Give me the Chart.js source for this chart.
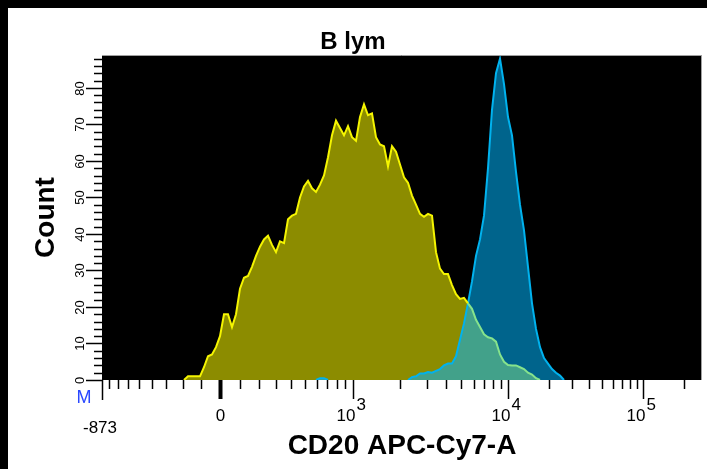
<!DOCTYPE html>
<html>
<head>
<meta charset="utf-8">
<script src="https://cdn.jsdelivr.net/npm/chart.js@4.4.1/dist/chart.umd.min.js"></script>
<style>
  html, body { margin: 0; background: #000; }
  #panel { position: absolute; left: 8px; top: 8px; width: 699px; height: 461px; background: #fff; }
  canvas { display: block; }
</style>
</head>
<body>
<div id="panel"><canvas id="hist" width="699" height="461"></canvas></div>
<script>
// 直方图数据（每个通道 = 显示轴的 1/150）
const CHANNELS = 150;
const Y_MAX = 89;
const X_MIN_VALUE = -873;

const yellowStart = 21;
const yellowCounts = [
  1, 1, 1, 1, 3.5, 6.5, 7, 9, 12, 18, 18, 14.5, 18, 25, 28, 28.5, 31, 34, 36.5, 38.5,
  39.5, 37, 35, 38, 37.5, 44, 45, 45.5, 50, 53, 54.5, 52.5, 51.5, 53.5, 56, 61, 67, 71, 69, 67,
  69.5, 66.5, 65.5, 72, 75.5, 72.5, 73, 66.5, 64.5, 64, 58.5, 64, 62.5, 59, 55.5, 54, 50.5, 48, 45.5, 44.7,
  45.5, 45, 35, 30.5, 29, 29, 26, 23.5, 22.2, 22.5, 21, 19.5, 16.5, 14.5, 12.5, 11.7, 11.4, 10.5, 7, 5,
  4.1, 4, 4, 3.5, 3, 2, 1.5, 0.5
];

const blueStart = 54;
const blueCounts = [
  0.5, 0.5, 0, 0, 0, 0, 0, 0, 0, 0, 0, 0, 0, 0, 0, 0, 0, 0, 0, 0, 0, 0, 0,
  0.8, 1, 1.8, 1.8, 2.2, 2, 2.5, 3, 4, 4.5, 4.5, 6.5, 11, 15.5, 21, 27, 34, 38.5, 45, 58,
  74, 84, 88, 81, 72, 67, 57, 48, 41, 31, 21, 14, 9, 6, 4.5, 3, 2, 1.2
];

// 坐标轴刻度
const yTickStep = 2;
const yLabelEvery = 10;
const xMajorTicks = [0, 1e3, 1e4, 1e5];
const xMajorLabels = ['0', '10^3', '10^4', '10^5'];
const xMinorTicks = [
  -800, -700, -600, -500, -400, -300, -200, -100,
  100, 200, 300, 400, 500, 600, 700, 800, 900,
  2e3, 3e3, 4e3, 5e3, 6e3, 7e3, 8e3, 9e3,
  2e4, 3e4, 4e4, 5e4, 6e4, 7e4, 8e4, 9e4,
  2e5
];

// 双指数显示变换：零附近近似线性，10^3 以上按十进制对数
const decadeChannels = [[3, 62.75], [4, 101.5], [5, 135.25]];
function toChannel(v) {
  if (v < 1000) {
    const k = v < 0 ? 19.3 : 20.2;
    return 29.5 + k * Math.asinh(v / 400);
  }
  const lg = Math.log10(v);
  for (let i = 0; i < decadeChannels.length - 1; i++) {
    const [d0, c0] = decadeChannels[i], [d1, c1] = decadeChannels[i + 1];
    if (lg <= d1) return c0 + (lg - d0) * (c1 - c0);
  }
  const [dA, cA] = decadeChannels[decadeChannels.length - 2];
  const [dB, cB] = decadeChannels[decadeChannels.length - 1];
  return cB + (lg - dB) * (cB - cA);
}

function fullSeries(start, counts) {
  const arr = new Array(CHANNELS).fill(0);
  counts.forEach((v, i) => { arr[start + i] = v; });
  return arr;
}
const yellowAll = fullSeries(yellowStart, yellowCounts);
const blueAll = fullSeries(blueStart, blueCounts);
const overlapAll = yellowAll.map((v, i) => Math.min(v, blueAll[i]));

// 点放在通道中心
function toPoints(arr) {
  return arr.map((v, c) => ({ x: c + 0.5, y: v }));
}

const colors = {
  yellowFill: '#8c8c00', yellowLine: '#f5f500',
  blueFill: '#00648c', blueLine: '#00b2ee',
  overlapFill: '#42a18a', overlapLine: '#86e38c'
};

function segColor(arr, normal, other, alt) {
  return ctx => {
    const i = ctx.p0DataIndex;
    const a = arr[i] || 0, b = arr[i + 1] || 0;
    if (a === 0 && b === 0) return 'transparent';
    if (other && other[i] >= a && other[i + 1] >= b && a > 0) return alt;
    return normal;
  };
}

function fillSet(arr, color) {
  return { data: toPoints(arr), fill: 'origin', backgroundColor: color,
           borderWidth: 0, pointRadius: 0, tension: 0 };
}
function lineSet(arr, color, other, alt) {
  return { data: toPoints(arr), fill: false, borderColor: color,
           borderWidth: 2, pointRadius: 0, tension: 0,
           segment: { borderColor: segColor(arr, color, other, alt) } };
}

// --- 坐标轴、刻度和文字 ---
const axesPlugin = {
  id: 'flowAxes',
  beforeDraw(chart) {
    const { ctx, chartArea: a } = chart;
    ctx.save();
    ctx.fillStyle = '#000';
    ctx.fillRect(a.left, a.top, a.right - a.left, a.bottom - a.top);
    ctx.restore();
  },
  afterDraw(chart) {
    const { ctx, chartArea: a, scales: { x, y } } = chart;
    const line = (x1, y1, x2, y2) => { ctx.beginPath(); ctx.moveTo(x1, y1); ctx.lineTo(x2, y2); ctx.stroke(); };
    ctx.save();

    // 绘图区上、右边框
    ctx.strokeStyle = '#a0a0a0';
    ctx.lineWidth = 1;
    line(a.left, a.top + 0.5, a.right - 0.5, a.top + 0.5);
    line(a.right - 0.5, a.top, a.right - 0.5, a.bottom);

    // Y 轴刻度
    ctx.strokeStyle = '#000';
    ctx.lineWidth = 1.5;
    ctx.fillStyle = '#000';
    ctx.font = '13px "Liberation Sans", Arial, sans-serif';
    ctx.textAlign = 'center';
    ctx.textBaseline = 'alphabetic';
    for (let v = 0; v <= Y_MAX; v += yTickStep) {
      const py = Math.round(y.getPixelForValue(v)) + 0.5;
      const major = v % yLabelEvery === 0;
      line(a.left - (major ? 16 : 8), py, a.left, py);
      if (major) {
        ctx.save();
        ctx.translate(a.left - 18, py);
        ctx.rotate(-Math.PI / 2);
        ctx.fillText(String(v), 0, 0);
        ctx.restore();
      }
    }

    // X 轴刻度
    line(a.left + 0.5, a.bottom, a.left + 0.5, a.bottom + 20);
    xMinorTicks.forEach(v => {
      const px = Math.round(x.getPixelForValue(toChannel(v))) + 0.5;
      line(px, a.bottom, px, a.bottom + 9);
    });
    ctx.font = '17px "Liberation Sans", Arial, sans-serif';
    xMajorTicks.forEach((v, i) => {
      const px = Math.round(x.getPixelForValue(toChannel(v))) + 0.5;
      ctx.lineWidth = v === 0 ? 4 : 1.5;
      line(px, a.bottom, px, a.bottom + 19);
      const [base, exp] = xMajorLabels[i].split('^');
      if (exp) {
        ctx.textAlign = 'right';
        ctx.fillText(base, px + 2, a.bottom + 41);
        ctx.textAlign = 'left';
        ctx.fillText(exp, px + 3, a.bottom + 30);
      } else {
        ctx.textAlign = 'center';
        ctx.fillText(base, px, a.bottom + 41);
      }
    });
    ctx.textAlign = 'center';
    ctx.fillText(String(X_MIN_VALUE), a.left - 2, a.bottom + 53);
    ctx.fillStyle = '#2a48ff';
    ctx.font = '18px "Liberation Sans", Arial, sans-serif';
    ctx.fillText('M', a.left - 18, a.bottom + 23);

    // 标题
    ctx.fillStyle = '#000';
    ctx.font = 'bold 24px "Liberation Sans", Arial, sans-serif';
    ctx.fillText('B lym', 345, a.top - 6);
    ctx.font = 'bold 28px "Liberation Sans", Arial, sans-serif';
    ctx.fillText('CD20 APC-Cy7-A', (a.left + a.right) / 2, a.bottom + 74);
    ctx.save();
    ctx.translate(a.left - 48, (a.top + a.bottom) / 2);
    ctx.rotate(-Math.PI / 2);
    ctx.fillText('Count', 0, 0);
    ctx.restore();

    ctx.restore();
  }
};

new Chart(document.getElementById('hist'), {
  type: 'line',
  data: {
    datasets: [
      lineSet(yellowAll, colors.yellowLine, blueAll, colors.overlapLine),
      lineSet(blueAll, colors.blueLine),
      fillSet(overlapAll, colors.overlapFill),
      fillSet(blueAll, colors.blueFill),
      fillSet(yellowAll, colors.yellowFill)
    ]
  },
  options: {
    responsive: false,
    animation: false,
    devicePixelRatio: 1,
    layout: { padding: { left: 94, top: 47, right: 5, bottom: 89 } },
    plugins: { legend: { display: false }, tooltip: { enabled: false } },
    scales: {
      x: { type: 'linear', display: false, min: 0, max: CHANNELS },
      y: { display: false, min: 0, max: Y_MAX }
    }
  },
  plugins: [axesPlugin]
});
</script>
</body>
</html>
